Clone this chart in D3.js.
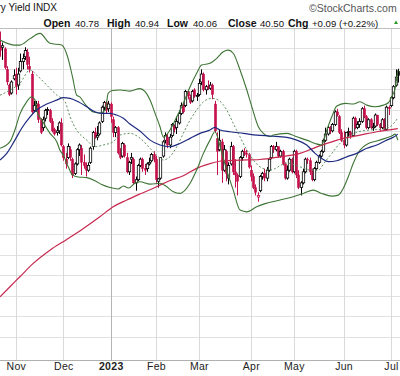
<!DOCTYPE html>
<html><head><meta charset="utf-8">
<script src="https://cdn.jsdelivr.net/npm/d3@7"></script>
<style>html,body{margin:0;padding:0;background:#fff;overflow:hidden}text{font-family:Arial,"Liberation Sans",sans-serif}</style>
</head><body><svg id="c" width="400" height="376"></svg>
<script>
// ---- categories: trading days (month, day numbers)
const dayGroups = [
  ["2022-10", [21,24,25,26,27,28,31]],
  ["2022-11", [1,2,3,4,7,8,9,10,11,14,15,16,17,18,21,22,23,25,28,29,30]],
  ["2022-12", [1,2,5,6,7,8,9,12,13,14,15,16,19,20,21,22,23,27,28,29,30]],
  ["2023-01", [3,4,5,6,9,10,11,12,13,17,18,19,20,23,24,25,26,27,30,31]],
  ["2023-02", [1,2,3,6,7,8,9,10,13,14,15,16,17,21,22,23,24,27,28]],
  ["2023-03", [1,2,3,6,7,8,9,10,13,14,15,16,17,20,21,22,23,24,27,28,29,30,31]],
  ["2023-04", [3,4,5,6,10,11,12,13,14,17,18,19,20,21,24,25,26,27,28]],
  ["2023-05", [1,2,3,4,5,8,9,10,11,12,15,16,17,18,19,22,23,24,25,26,30,31]],
  ["2023-06", [1,2,5,6,7,8,9,12,13,14,15,16,20,21,22,23,26,27,28,29,30]],
  ["2023-07", [3,5,6,7]]
];
// ---- price series (one value per trading day)
const open = [
 42.3,42.3,42.2,40.9,39.9,39.4,40.3,
 40.6,39.9,40.8,41.4,41.7,42.0,41.1,40.6,38.3,38.6,38.7,37.7,37.2,37.8,38.3,38.3,37.6,37.1,36.9,37.0,37.5,
 36.0,35.2,35.3,35.8,35.2,34.3,34.9,35.8,35.9,35.0,34.8,34.5,35.0,36.0,36.9,36.6,36.8,37.6,38.5,38.8,38.4,
 38.7,37.7,36.9,37.2,35.6,35.4,36.1,35.3,34.4,35.2,35.2,33.7,33.9,34.8,35.2,34.6,34.6,34.9,35.1,35.5,
 35.2,33.8,34.0,35.4,36.4,36.6,36.1,36.7,37.3,37.2,37.5,38.1,38.6,38.6,39.5,39.1,38.9,39.6,39.2,
 39.3,40.1,40.6,39.6,39.8,39.7,39.9,38.7,36.5,35.8,36.3,34.5,35.7,34.0,34.9,36.0,34.4,34.2,34.1,35.3,35.7,35.6,35.5,
 34.5,34.1,33.4,32.8,33.2,34.1,34.3,34.0,34.5,35.3,36.0,35.8,36.0,35.4,35.7,34.9,34.0,34.5,35.2,
 34.4,35.7,34.2,33.4,33.7,34.4,35.2,35.1,34.4,33.9,34.6,35.0,35.4,35.7,36.4,36.8,37.2,37.0,37.4,38.2,37.9,36.9,
 36.4,36.1,36.9,36.9,36.7,37.8,37.2,37.4,37.6,38.4,37.9,37.2,37.7,37.2,37.3,38.0,37.4,37.2,37.7,37.1,38.5,
 38.6,39.1,39.9,40.78
];
const high = [
 43.3,42.6,42.3,41.1,40.0,40.2,40.9,
 41.0,41.0,41.9,41.9,42.3,42.2,41.7,40.8,38.9,38.9,38.9,37.8,37.9,38.4,38.5,38.4,37.8,37.2,37.3,37.6,37.8,
 36.1,35.6,36.2,36.0,35.3,35.0,35.9,36.2,36.1,35.5,35.0,35.0,36.0,37.0,37.2,37.3,37.6,38.6,38.9,38.9,38.9,
 38.8,37.9,37.3,37.3,35.9,36.3,36.2,35.6,35.1,35.6,35.3,34.1,34.9,35.3,35.3,34.9,35.0,35.3,35.6,35.7,
 35.4,34.0,35.3,36.4,36.9,36.8,36.8,37.5,37.4,37.9,38.3,38.8,38.8,39.6,39.6,39.3,39.6,39.7,39.4,
 40.3,40.9,40.7,39.9,40.2,40.1,40.0,38.9,36.9,37.1,36.5,36.1,35.8,35.0,36.3,36.1,35.2,34.3,35.4,35.8,35.9,35.8,35.6,
 34.8,34.3,33.6,33.1,34.2,34.4,34.6,34.7,35.3,36.1,36.1,36.3,36.0,35.8,35.8,35.0,34.8,35.3,35.3,
 35.8,35.8,34.5,33.8,34.6,35.3,35.3,35.3,34.6,34.7,35.1,35.5,35.8,36.5,37.2,37.3,37.3,37.5,38.3,38.4,38.0,37.1,
 37.0,36.9,37.2,37.0,37.9,37.9,37.6,37.8,38.5,38.6,38.0,37.8,37.8,37.5,38.1,38.0,37.5,37.8,37.8,38.6,38.6,
 39.2,39.9,40.9,40.94
];
const low = [
 41.7,41.5,40.9,39.9,39.2,39.3,40.2,
 39.3,39.6,40.7,40.9,41.5,40.9,40.7,38.1,38.2,38.2,37.5,36.8,37.0,37.6,38.0,37.5,36.9,36.7,36.7,36.8,36.0,
 35.1,34.6,35.2,35.1,34.0,34.2,34.8,35.4,34.2,34.6,34.1,34.4,34.9,35.8,36.5,36.4,36.7,37.5,38.3,38.1,38.2,
 37.5,36.6,36.6,35.5,35.2,35.3,35.3,34.3,34.2,34.9,33.6,33.2,33.8,34.7,34.4,34.2,34.4,34.8,35.0,35.0,
 33.7,33.4,33.9,35.3,36.2,35.9,35.9,36.6,36.9,36.8,37.4,38.0,38.1,38.5,39.0,38.7,38.8,39.1,38.9,
 39.2,39.9,39.5,39.3,39.6,39.6,39.0,36.9,34.2,35.7,33.7,34.4,33.8,33.6,34.8,34.2,33.4,32.9,34.0,35.1,35.4,35.3,34.6,
 33.8,33.3,32.9,32.5,33.1,33.9,33.8,33.8,34.4,35.2,35.6,35.7,35.3,35.3,34.8,33.9,33.9,34.4,34.3,
 34.3,34.0,33.3,32.9,33.6,34.3,34.9,34.2,33.8,33.8,34.5,34.9,35.3,35.6,36.3,36.7,36.8,36.9,37.3,37.9,36.8,36.3,
 35.9,36.0,36.6,36.5,36.6,37.1,37.1,37.2,37.5,37.8,37.1,37.1,37.1,37.0,37.2,37.3,37.0,37.1,37.0,37.0,38.0,
 38.5,39.0,39.8,40.06
];
const close = [
 42.1,42.4,41.0,40.1,39.3,40.1,40.5,
 39.8,40.6,41.4,41.6,42.1,41.2,40.9,38.2,38.6,38.7,37.7,36.9,37.7,38.3,38.35,37.6,37.0,36.8,37.0,37.5,36.1,
 35.3,34.9,36.0,35.3,34.2,34.9,35.8,36.1,35.0,34.8,34.5,34.8,35.9,36.9,36.6,36.7,37.5,38.5,38.8,38.3,38.7,
 37.9,36.9,37.2,35.6,35.3,36.2,35.4,34.4,35.0,35.3,33.7,33.9,34.8,35.2,34.6,34.5,34.9,35.0,35.5,35.2,
 33.9,33.95,35.3,36.3,36.7,36.1,36.6,37.4,37.1,37.6,38.1,38.6,38.2,39.5,39.2,38.8,39.5,39.2,39.25,
 40.0,40.6,39.6,39.8,39.7,39.9,39.3,37.0,35.7,36.4,34.5,35.8,34.3,34.8,36.0,34.4,34.2,33.8,35.3,35.7,35.65,35.5,34.7,
 34.1,33.4,33.1,32.9,34.1,34.3,34.0,34.5,35.2,36.0,35.8,36.0,35.4,35.7,34.9,34.0,34.5,35.2,34.4,
 35.7,34.2,33.4,33.7,34.4,35.2,35.15,34.4,33.9,34.6,35.0,35.4,35.7,36.4,36.8,37.2,37.0,37.4,38.2,38.0,36.9,36.4,
 36.1,36.9,36.95,36.7,37.8,37.2,37.4,37.6,38.4,37.9,37.2,37.7,37.2,37.25,38.0,37.4,37.2,37.7,37.1,38.5,38.4,
 39.1,39.8,40.41,40.50
];
// ---- overlays: [trading-day index, value]
const bbUpper = [[0,42.76],[6.6,42.44],[8.8,42.44],[13.3,42.85],[17.7,43.18],[22.1,42.55],[27.3,42.44],[29.9,41.70],[32.1,40.41],[33.9,39.27],[35.4,39.14],[37.6,38.70],[41.3,38.19],[44.2,38.13],[46.5,38.32],[47.9,39.38],[49.4,39.54],[53.1,39.59],[57.5,39.52],[61.9,39.68],[64.2,39.48],[66.4,38.95],[68.6,38.11],[70.8,37.26],[72.3,36.60],[75.2,37.05],[78.2,37.89],[81.1,38.74],[84.1,39.80],[87.0,40.65],[89.2,41.17],[92.9,41.28],[95.9,41.60],[98.8,42.02],[101.0,42.12],[103.2,41.92],[106.2,40.86],[109.2,39.59],[111.4,38.53],[114.3,37.26],[116.5,36.84],[119.5,36.62],[120.9,36.73],[126.9,36.84],[131.3,36.62],[135.7,36.41],[139.4,36.20],[142.3,36.10],[144.6,37.05],[146.8,37.89],[149.0,38.57],[152.7,38.74],[156.3,38.70],[159.3,38.84],[162.3,38.63],[165.9,38.53],[169.6,38.63],[171.8,38.78],[173.3,39.16],[174.8,39.69],[176,40.85]];
const bbLower = [[0,35.89],[4.4,36.31],[6.6,37.05],[8.8,38.06],[11.8,38.84],[14.0,39.16],[15.5,38.95],[16.2,38.32],[18.5,37.68],[22.1,36.84],[25.1,36.31],[26.5,35.78],[28.0,35.46],[30.2,34.72],[32.1,34.19],[34.6,34.07],[38.4,34.03],[42.0,33.84],[45.0,33.59],[48.7,33.40],[52.3,33.31],[54.6,33.50],[56.8,33.37],[59.7,33.67],[61.9,33.77],[66.4,33.62],[70.8,33.67],[73.8,33.45],[76.7,33.13],[79.6,33.03],[81.9,33.24],[84.1,33.67],[87.0,34.51],[90.0,35.57],[92.9,36.41],[95.1,36.94],[97.8,35.78],[100.3,34.51],[103.2,33.24],[106.2,31.97],[109.2,31.86],[113.6,32.18],[117.3,32.38],[123.9,32.61],[129.8,32.82],[134.2,33.03],[138.6,33.24],[142.3,33.03],[146.8,32.86],[149.7,32.92],[151.9,33.35],[154.1,34.09],[156.3,34.94],[159.3,35.78],[163.0,36.20],[166.7,36.35],[170.4,36.52],[173.3,36.67],[174.8,36.79],[176,36.41]];
const sma20 = [[0,39.26],[4.4,39.58],[8.8,40.01],[13.3,40.86],[16.2,40.54],[20.7,39.90],[25.1,39.27],[28.8,38.84],[31.0,37.89],[33.9,37.05],[38.4,36.41],[42.0,35.99],[45.7,36.10],[50.1,36.31],[53.1,36.73],[57.5,36.84],[61.9,36.54],[66.4,35.89],[69.3,35.46],[72.3,35.15],[75.2,35.36],[78.2,35.99],[81.1,36.84],[84.1,37.68],[87.0,38.32],[90.0,38.84],[93.7,39.06],[96.6,38.95],[100.3,38.32],[103.2,37.47],[106.2,36.62],[109.2,35.78],[112.1,35.15],[115.0,34.72],[119.5,34.51],[126.9,34.95],[132.7,34.72],[137.2,34.51],[140.8,34.51],[143.8,35.04],[146.8,35.57],[150.4,36.20],[154.1,36.62],[158.5,36.94],[163.7,37.05],[168.9,37.11],[172.6,37.26],[174.8,37.58],[176,37.81]];
const sma50 = [[0,35.15],[3.0,35.57],[6.6,36.41],[9.6,37.16],[13.3,37.89],[16.2,38.32],[20.7,38.70],[25.1,38.95],[28.0,39.10],[31.0,39.06],[34.6,38.84],[38.4,38.53],[42.0,38.21],[45.0,38.11],[48.7,38.11],[51.6,38.00],[54.6,37.79],[57.5,37.43],[61.9,36.99],[66.4,36.41],[70.8,36.10],[75.2,35.99],[79.6,36.20],[84.1,36.52],[88.5,36.84],[92.9,37.05],[95.1,37.22],[97.3,37.05],[101.8,36.94],[107.7,36.84],[113.6,36.73],[119.5,36.67],[126.9,36.59],[131.3,36.41],[135.7,36.10],[139.4,35.57],[142.3,35.25],[145.3,35.04],[149.0,35.10],[153.4,35.35],[157.8,35.57],[162.3,35.89],[166.7,36.10],[171.1,36.41],[174.0,36.59],[176,36.79]];
const sma200 = [[0,26.47],[4.4,27.11],[8.8,27.74],[14.7,28.59],[22.1,29.43],[29.5,30.11],[36.9,30.81],[44.2,31.55],[50.1,32.18],[56.1,32.61],[61.9,32.99],[69.3,33.45],[75.2,33.85],[81.1,34.15],[87.0,34.62],[92.9,34.92],[98.8,35.10],[106.2,35.14],[115.0,35.18],[123.9,35.35],[132.7,35.57],[138.6,35.89],[144.6,36.20],[151.9,36.52],[159.3,36.73],[166.7,36.94],[176,37.14]];
// ---- axis / grid labels
const tickDates = ["2022-11-01","2022-12-01","2023-01-03","2023-02-01","2023-03-01","2023-04-03","2023-05-01","2023-06-01","2023-07-03"];
const tickLabels = ["Nov","Dec","2023","Feb","Mar","Apr","May","Jun","Jul"];
const gridValues = [42.25,40.94,39.63,38.32,37.01,35.70,34.39,33.08,31.77,30.46,29.15,27.84,26.53,25.22,23.91];
const titleText = "$TNX 10-Year Treasury Yield INDX";
const quoteLabels = ["Open","High","Low","Close","Chg"];
const quoteValues = ["40.78","40.94","40.06","40.50","+0.09 (+0.22%)"];

// ================= drawing =================
const svg = d3.select("#c");
const dates = dayGroups.flatMap(([m, ds]) => ds.map(d => m + "-" + String(d).padStart(2, "0")));
const n = dates.length;
const plotTop = 29, plotBottom = 360;
const x = d3.scaleLinear().domain([0, n - 1]).range([0, 397.8]);
const y = d3.scaleLinear().domain([22.46, 43.46]).range([plotBottom, plotTop]);

// horizontal grid
const gy = svg.append("g").call(d3.axisLeft(y).tickValues(gridValues).tickSize(-400).tickFormat(""));
gy.select(".domain").remove();
gy.selectAll("line").attr("stroke", "#e1e1e1").attr("shape-rendering", "crispEdges");

// vertical month grid + labels
const tickIdx = tickDates.map(d => dates.indexOf(d));
const gx = svg.append("g").attr("transform", `translate(0,${plotBottom})`)
  .call(d3.axisBottom(x).tickValues(tickIdx).tickSize(-(plotBottom - plotTop)).tickPadding(3)
    .tickFormat((d, i) => tickLabels[i]));
gx.select(".domain").remove();
gx.selectAll("line").attr("stroke", (d, i) => tickLabels[i] === "2023" ? "#b4b4b4" : "#d9d9d9")
  .attr("shape-rendering", "crispEdges");
gx.selectAll("text").attr("font-size", "10.5px").attr("fill", "#222")
  .attr("font-family", "Arial, 'Liberation Sans', sans-serif")
  .attr("font-weight", (d, i) => tickLabels[i] === "2023" ? "bold" : "normal")
  .attr("letter-spacing", "0.3px");

// frame lines
svg.append("line").attr("x1", 0).attr("x2", 400).attr("y1", plotTop - 0.5).attr("y2", plotTop - 0.5)
  .attr("stroke", "#bdbdbd");
svg.append("line").attr("x1", 0).attr("x2", 400).attr("y1", plotBottom + 0.5).attr("y2", plotBottom + 0.5)
  .attr("stroke", "#b0b0b0");

// clip
svg.append("clipPath").attr("id", "plot").append("rect")
  .attr("x", 0).attr("y", plotTop).attr("width", 400).attr("height", plotBottom - plotTop);
const plot = svg.append("g").attr("clip-path", "url(#plot)");

const line = d3.line().x(d => x(d[0])).y(d => y(d[1])).curve(d3.curveMonotoneX);

// candles
const RED = "#c5124c";
const candles = d3.range(n).map(i => ({
  i, o: open[i], h: high[i], l: low[i], c: close[i],
  down: i > 0 ? close[i] < close[i - 1] : close[i] < open[i],
  hollow: close[i] > open[i]
}));
const cg = plot.append("g");
const bw = 2.4;
cg.selectAll("line.w").data(candles).join("line").attr("class", "w")
  .attr("x1", d => Math.round(x(d.i)) + 0.5).attr("x2", d => Math.round(x(d.i)) + 0.5)
  .attr("y1", d => y(d.h)).attr("y2", d => y(d.l))
  .attr("stroke", d => d.down ? RED : "#000").attr("stroke-width", 1);
cg.selectAll("rect.b").data(candles).join("rect").attr("class", "b")
  .attr("x", d => Math.round(x(d.i)) + 0.5 - bw / 2)
  .attr("width", bw)
  .attr("y", d => y(Math.max(d.o, d.c)))
  .attr("height", d => Math.max(1, Math.abs(y(d.o) - y(d.c))))
  .attr("fill", d => d.hollow ? "#fff" : (d.down ? RED : "#000"))
  .attr("stroke", d => d.down ? RED : "#000")
  .attr("stroke-width", d => d.hollow ? 0.8 : 0.4);

// overlays
plot.append("path").datum(sma200).attr("d", line).attr("fill", "none")
  .attr("stroke", "#c8284f").attr("stroke-width", 1.2);
plot.append("path").datum(bbUpper).attr("d", line).attr("fill", "none")
  .attr("stroke", "#3d7434").attr("stroke-width", 1.1);
plot.append("path").datum(bbLower).attr("d", line).attr("fill", "none")
  .attr("stroke", "#3d7434").attr("stroke-width", 1.1);
plot.append("path").datum(sma20).attr("d", line).attr("fill", "none")
  .attr("stroke", "#5f8f5f").attr("stroke-width", 1).attr("stroke-dasharray", "2,2");
plot.append("path").datum(sma50).attr("d", line).attr("fill", "none")
  .attr("stroke", "#1e2a80").attr("stroke-width", 1.2);

// header
svg.append("text").attr("x", 57).attr("y", 11).attr("text-anchor", "end")
  .attr("font-size", "10px").attr("fill", "#111").text(titleText);
svg.append("text").attr("x", 309).attr("y", 11.5).attr("font-size", "10.5px")
  .attr("fill", "#555").text("\u00A9StockCharts.com");
const labelX = [43.5, 107, 167, 228, 288];
const valueX = [75, 135, 193, 260, 312];
quoteLabels.forEach((t, i) => {
  svg.append("text").attr("x", labelX[i]).attr("y", 26.5).attr("font-size", "10.5px")
    .attr("font-weight", "bold").attr("fill", "#111").text(t);
  svg.append("text").attr("x", valueX[i]).attr("y", 26.5).attr("font-size", "9.6px")
    .attr("fill", "#111").text(quoteValues[i]);
});
svg.append("path").attr("d", "M394,24 L398,24 L396,20.5 Z").attr("fill", "#2a9a2a");
</script></body></html>
